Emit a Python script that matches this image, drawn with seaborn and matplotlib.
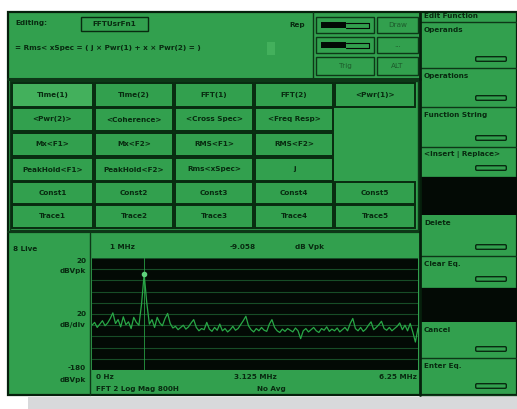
import numpy as np
import matplotlib
matplotlib.use("Agg")
import matplotlib.pyplot as plt
from matplotlib.patches import Rectangle, FancyBboxPatch
import seaborn as sns

sns.set_theme(style="white")
plt.rcParams['font.family'] = ['DejaVu Sans']

# ---------------- data ----------------
span_start_mhz = 0.0
span_stop_mhz = 6.25
levels_dbvpk = [
    -100, -95, -104, -98, -92, -101, -96, -88, -78, -97, -90, -103, -85, -99, -94, -106, -86, -95, -100, -62,
    -9,
    -60, -98, -90, -104, -86, -96, -101, -88, -79, -97, -105, -102, -108, -104, -100, -107, -103, -96, -90, -104,
    -110, -106, -108, -95, -107, -111, -104, -109, -98, -110, -106, -112, -108, -102, -109, -106, -99, -92, -84, -101,
    -108, -112, -106, -110, -104, -109, -111, -98, -90, -104, -110, -113, -107, -111, -106, -109, -112, -105, -110, -124,
    -110, -106, -112, -108, -104, -110, -113, -106, -109, -103, -111, -107, -110, -105, -112, -108, -104, -110, -97, -88,
    -106, -110, -104, -111, -107, -100, -94, -108, -104, -99, -93, -106, -109, -104, -110, -106, -102, -96, -108, -100,
    -110, -97, -112, -130, -105,
]
freq_mhz = np.linspace(span_start_mhz, span_stop_mhz, len(levels_dbvpk))
marker_freq_mhz = 1.0
marker_level_dbvpk = -9.058
y_top_dbvpk = 20
y_bottom_dbvpk = -180
y_div_db = 20

grid_rows = [
    ["Time(1)", "Time(2)", "FFT(1)", "FFT(2)", "<Pwr(1)>"],
    ["<Pwr(2)>", "<Coherence>", "<Cross Spec>", "<Freq Resp>", None],
    ["Mx<F1>", "Mx<F2>", "RMS<F1>", "RMS<F2>", None],
    ["PeakHold<F1>", "PeakHold<F2>", "Rms<xSpec>", "j", None],
    ["Const1", "Const2", "Const3", "Const4", "Const5"],
    ["Trace1", "Trace2", "Trace3", "Trace4", "Trace5"],
]
softkeys = ["Operands", "Operations", "Function String", "<Insert | Replace>",
            None, "Delete", "Clear Eq.", None, "Cancel", "Enter Eq."]

# ---------------- style ----------------
GREEN = "#32a04e"
GREEN_LIGHT = "#43b05c"
DARK = "#082a10"
EDGE = "#0d3717"
BLACK = "#030a05"
TRACE = "#29a847"
GRIDC = "#174d27"
FS = 5.2

fig = plt.figure(figsize=(5.17, 4.09), dpi=100)
fig.patch.set_facecolor("white")
ui = fig.add_axes([0, 0, 1, 1])
ui.set_xlim(0, 517)
ui.set_ylim(409, 0)
ui.axis("off")


def rect(x0, y0, x1, y1, fc=GREEN, ec=EDGE, lw=1.0, z=1):
    ui.add_patch(Rectangle((x0, y0), x1 - x0, y1 - y0, facecolor=fc,
                           edgecolor=ec, linewidth=lw, zorder=z))


def txt(x, y, s, ha="left", fs=FS, color=DARK, z=5, weight="bold", **kw):
    ui.text(x, y, s, ha=ha, va="center", fontsize=fs, color=color, zorder=z,
            fontweight=weight, **kw)


# shadow strip under the screen
ui.add_patch(Rectangle((28, 397), 489, 12, facecolor="#d8d9db", edgecolor="none", zorder=0))

# outer frame
rect(8, 12, 517, 395, fc=GREEN, ec="#06200c", lw=1.6, z=1)

# ---- top editing area ----
ui.plot([8, 420], [78.5, 78.5], color=EDGE, lw=2.2, zorder=3)
ui.plot([313, 313], [12, 78], color=EDGE, lw=1.0, zorder=3)
txt(15, 23, "Editing:")
rect(81, 17, 148, 31, fc=GREEN, ec=DARK, lw=1.0, z=3)
txt(114.5, 24, "FFTUsrFn1", ha="center")
txt(289, 25, "Rep")
txt(15, 48, "= Rms< xSpec = ( j \u00d7 Pwr(1) + x \u00d7 Pwr(2) = )")
rect(267, 42, 275, 55, fc=GREEN_LIGHT, ec="none", lw=0, z=3)

# meters and small buttons
for (y0, y1) in [(17, 33), (37, 53)]:
    rect(316, y0, 374, y1, fc=GREEN, ec=EDGE, lw=1.0, z=3)
    rect(321, y0 + 5, 346, y1 - 5, fc=BLACK, ec="none", lw=0, z=4)
    ui.plot([346, 369], [y0 + 5.5, y0 + 5.5], color=BLACK, lw=0.8, zorder=4)
    ui.plot([346, 369], [y1 - 5.5, y1 - 5.5], color=BLACK, lw=0.8, zorder=4)
    ui.plot([369, 369], [y0 + 5.5, y1 - 5.5], color=BLACK, lw=0.8, zorder=4)
rect(316, 57, 374, 75, fc=GREEN, ec=EDGE, lw=1.0, z=3)
txt(345, 66, "Trig", ha="center", color="#1d5a2b", weight="normal")
for (y0, y1, s) in [(17, 33, "Draw"), (37, 53, "..."), (57, 75, "ALT")]:
    rect(377, y0, 418, y1, fc=GREEN, ec=EDGE, lw=1.0, z=3)
    txt(397.5, (y0 + y1) / 2, s, ha="center", color="#1d5a2b", weight="normal")

# ---- button grid ----
row_edges = [(83, 107), (108, 131), (133, 156), (158, 181), (182, 204), (205, 228)]
col_edges = [(12, 93), (95, 173), (175, 253), (255, 333), (335, 415)]
rect(10, 81, 418, 230, fc=GREEN, ec=EDGE, lw=1.0, z=2)
for r, row in enumerate(grid_rows):
    for c, label in enumerate(row):
        if label is None:
            continue
        x0, x1 = col_edges[c]
        y0, y1 = row_edges[r]
        fc = GREEN_LIGHT if (r == 0 and c == 0) else GREEN
        rect(x0, y0, x1, y1, fc=fc, ec=DARK, lw=1.4, z=3)
        txt((x0 + x1) / 2, (y0 + y1) / 2, label, ha="center")

# ---- measurement display ----
ui.plot([8, 420], [232, 232], color=EDGE, lw=1.6, zorder=3)
ui.plot([90, 90], [233, 395], color=EDGE, lw=1.0, zorder=3)
txt(13, 249, "8 Live")
txt(110, 247, "1 MHz")
txt(230, 247, f"{marker_level_dbvpk:.3f}")
txt(295, 247, "dB Vpk")
txt(86, 261, f"{y_top_dbvpk}", ha="right")
txt(86, 271, "dBVpk", ha="right")
txt(86, 314, f"{y_div_db}", ha="right")
txt(86, 325, "dB/div", ha="right")
txt(86, 368, f"{y_bottom_dbvpk}", ha="right")
txt(86, 380, "dBVpk", ha="right")
txt(96, 377, f"{span_start_mhz:.0f} Hz")
txt(255, 377, f"{(span_start_mhz + span_stop_mhz) / 2:.3f} MHz", ha="center")
txt(417, 377, f"{span_stop_mhz:.2f} MHz", ha="right")
txt(96, 389, "FFT 2 Log Mag 800H")
txt(257, 389, "No Avg")

# spectrum axes (black screen)
ax = fig.add_axes([92 / 517, 1 - 370 / 409, 326 / 517, 112 / 409])
ax.set_facecolor(BLACK)
sns.lineplot(x=freq_mhz, y=levels_dbvpk, ax=ax, color=TRACE, lw=0.9)
ax.axvline(marker_freq_mhz, color=TRACE, lw=0.7, alpha=0.8)
ax.plot([marker_freq_mhz], [marker_level_dbvpk], "o", ms=3, color="#5fd07c")
ax.set_xlim(span_start_mhz, span_stop_mhz)
ax.set_ylim(y_bottom_dbvpk, y_top_dbvpk)
ax.set_yticks(np.arange(y_bottom_dbvpk, y_top_dbvpk + 1, y_div_db))
ax.set_xticks([])
ax.yaxis.grid(True, color=GRIDC, lw=0.8)
ax.tick_params(left=False, labelleft=False, bottom=False, labelbottom=False)
for s in ax.spines.values():
    s.set_visible(False)
ax.set_xlabel("")
ax.set_ylabel("")
# small annotation box top right
ui.add_patch(Rectangle((399, 260), 18, 11, facecolor=BLACK, edgecolor=TRACE, lw=0.8, zorder=6))
txt(408, 265.5, "Ovl", ha="center", fs=4.0, color=TRACE, z=7, weight="normal")

# ---- right softkey panel ----
ui.plot([420, 420], [12, 395], color="#06200c", lw=2.0, zorder=4)
txt(424, 16.5, "Edit Function")
ui.plot([420, 517], [21.5, 21.5], color=EDGE, lw=1.0, zorder=3)
key_bounds = [(22, 68), (68, 107), (107, 147), (147, 177), (177, 215),
              (215, 256), (256, 288), (288, 322), (322, 358), (358, 395)]
for label, (y0, y1) in zip(softkeys, key_bounds):
    if label is None:
        rect(421, y0, 517, y1, fc=BLACK, ec="none", lw=0, z=3)
        continue
    ui.plot([420, 517], [y1, y1], color=EDGE, lw=1.0, zorder=3)
    txt(424, y0 + 8, label)
    by = y1 - 11
    ui.add_patch(FancyBboxPatch((476, by), 30, 4, boxstyle="round,pad=0.3,rounding_size=1.2",
                                facecolor=GREEN, edgecolor=DARK, lw=1.0, zorder=5))

fig.savefig("out.png", dpi=100, facecolor=fig.get_facecolor())
